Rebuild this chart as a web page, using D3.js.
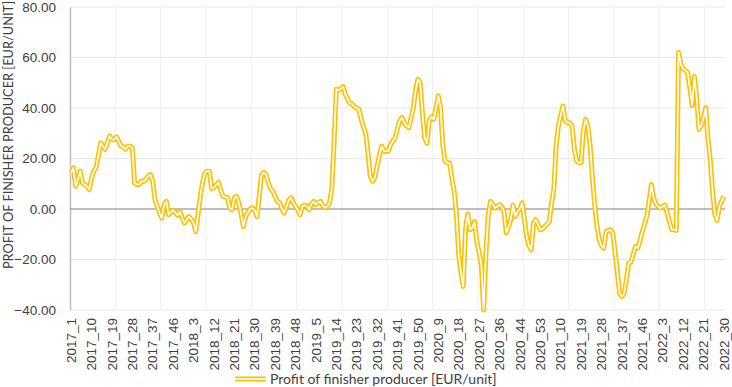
<!DOCTYPE html>
<html>
<head>
<meta charset="utf-8">
<script src="https://cdn.jsdelivr.net/npm/d3@7"></script>
<style>
  body { margin: 0; background: #fff; }
  svg { font-family: "Lato", "Liberation Sans", sans-serif; }
</style>
</head>
<body>
<div id="chart"></div>
<script>
/* tick labels, one every 9 weeks */
const tickLabels = ["2017_1", "2017_10", "2017_19", "2017_28", "2017_37", "2017_46", "2018_3", "2018_12",
    "2018_21", "2018_30", "2018_39", "2018_48", "2019_5", "2019_14", "2019_23", "2019_32", "2019_41",
    "2019_50", "2020_9", "2020_18", "2020_27", "2020_36", "2020_44", "2020_53", "2021_10", "2021_19",
    "2021_28", "2021_37", "2021_46", "2022_3", "2022_12", "2022_21", "2022_30"];

/* weekly profit, EUR/unit */
const profit = [
    14.3, 16.3, 9, 11.7, 15, 10.3, 9.7, 9, 7.7, 12.3,
    15, 16.3, 21, 26.2, 24.9, 23.6, 26.2, 28.9, 27.5, 27.5,
    28.6, 26.9, 24.9, 24.6, 23.6, 24.9, 24.9, 24.2, 10.3, 9.7,
    9.7, 11, 11, 11.7, 13, 13.6, 11, 3.7, 1, -1.6,
    -3.6, 1.7, 3, -2.3, -1.2, -0.5, -1.5, -2.5, -1, -3.5,
    -5.5, -4.2, -3, -4, -5.5, -9, -2, 5, 10.5, 14.3,
    15, 15, 8, 8.5, 9.5, 10.6, 7.5, 5, 4.8, 4.4,
    0.4, -0.3, 4.4, 5, 2.4, -2, -7, -3, -1.5, 0,
    0.5, -0.5, -3, 5, 13.5, 14.5, 13.6, 10.5, 8, 7,
    5, 3, 2.5, 0, -1.6, 1, 3.5, 4.4, 2.5, 1,
    -0.3, -2.3, 1, 1.5, 1.3, -0.3, 2, 3, 1.7, 2.5,
    3, 1.3, 0.5, 1, 2.4, 8, 26, 47.4, 47, 47.7,
    48.5, 45.4, 43.5, 42, 41.5, 40.5, 40, 39.5, 35.5, 32.5,
    30, 22, 13, 11, 12.5, 17, 21, 24.9, 23, 22.9,
    23, 25.5, 27, 28.2, 32, 35, 36.2, 34, 33, 32.2,
    36, 40, 47, 51.4, 50, 38, 28, 26, 35, 36.5,
    35.5, 40, 44.8, 40, 25, 19, 18.3, 18.3, 12, 7,
    -2, -18, -25, -30.7, -8, -2, -8.2, -7.5, -5, -13,
    -17, -22, -40, -18, -3, 3, 2, 0.4, 1, 1.7,
    1, -1, -9.5, -7, -4, 1.5, -2.9, -1, 0, 2.4,
    -4, -11, -14.5, -16.2, -5.6, -4.2, -6, -8.2, -8, -6.9,
    -6, -4.9, 2.4, 8, 25, 33, 37, 40.8, 35, 34.2,
    34.2, 33, 24, 19, 18.3, 18.3, 30.9, 35.5, 33, 25,
    12, 2, -6.9, -12, -14.5, -15.5, -9, -8.5, -8.2, -9.5,
    -17, -25, -33.4, -34.7, -33.4, -28, -21.5, -21, -18, -14.8,
    -15.5, -12.5, -9, -6, -3, 3, 9.7, 4.5, 2, 1,
    0.4, 1, 1.5, -1.6, -5, -8.2, -8.2, -8.5, 62, 57.5,
    55.5, 55, 54, 48, 41, 52.5, 44, 31.5, 33, 36,
    40.1, 28, 19.6, 7, -2, -4.5, 1, 3, 5
];

const yTicks = [-40, -20, 0, 20, 40, 60, 80];
const seriesName = "Profit of finisher producer [EUR/unit]";
const yTitle = "PROFIT OF FINISHER PRODUCER [EUR/UNIT]";

const width = 732, height = 387;
const margin = {top: 7, right: 7, bottom: 77, left: 70};
const gold = "#FFC000";

const svg = d3.select("#chart")
    .append("svg")
        .attr("width", width)
        .attr("height", height);

const idx = d3.range(profit.length);

const x = d3.scaleBand()
    .domain(idx)
    .range([margin.left, width - margin.right])
    .padding(0);

const y = d3.scaleLinear()
    .domain([-40, 80])
    .range([height - margin.bottom, margin.top]);

/* horizontal gridlines */
svg.append("g")
    .selectAll("line")
    .data(yTicks.filter(d => d !== 0))
    .join("line")
        .attr("x1", margin.left)
        .attr("x2", width - margin.right)
        .attr("y1", d => y(d))
        .attr("y2", d => y(d))
        .attr("stroke", "#e6e6e6")
        .attr("stroke-width", 1);

/* vertical gridlines every 20 weeks */
svg.append("g")
    .selectAll("line")
    .data(idx.filter(i => i > 0 && i % 20 === 0))
    .join("line")
        .attr("x1", d => x(d))
        .attr("x2", d => x(d))
        .attr("y1", y(80))
        .attr("y2", y(-40))
        .attr("stroke", "#eeeeee")
        .attr("stroke-width", 1);

/* y axis */
const yAxis = svg.append("g")
    .attr("transform", "translate(" + margin.left + ",0)")
    .call(d3.axisLeft(y).tickValues(yTicks).tickFormat(d3.format(".2f")).tickSize(0).tickPadding(14));
yAxis.select(".domain").attr("stroke", "#bfbfbf").attr("stroke-width", 1.5);
yAxis.selectAll("text").attr("font-size", 13.5).attr("fill", "#404040");

/* zero line */
svg.append("line")
    .attr("x1", margin.left)
    .attr("x2", width - margin.right)
    .attr("y1", y(0))
    .attr("y2", y(0))
    .attr("stroke", "#7f7f7f")
    .attr("stroke-width", 1.2);

/* x labels at the bottom */
const xAxis = svg.append("g")
    .attr("transform", "translate(0," + (height - margin.bottom) + ")")
    .call(d3.axisBottom(x)
        .tickValues(idx.filter(i => i % 9 === 0))
        .tickFormat(i => tickLabels[i / 9])
        .tickSize(0));
xAxis.select(".domain").remove();
xAxis.selectAll("text")
    .attr("font-size", 13.5)
    .attr("fill", "#404040")
    .attr("text-anchor", "end")
    .attr("dy", "0.35em")
    .attr("transform", "translate(0,8) rotate(-90)")
    .attr("x", 0)
    .attr("y", 0);

/* the double line */
const line = d3.line()
    .x((d, i) => x(i) + x.bandwidth() / 2)
    .y(d => y(d));

svg.append("path")
    .datum(profit)
    .attr("fill", "none")
    .attr("stroke", gold)
    .attr("stroke-width", 5)
    .attr("stroke-linejoin", "round")
    .attr("d", line);

svg.append("path")
    .datum(profit)
    .attr("fill", "none")
    .attr("stroke", "#fff")
    .attr("stroke-width", 1.7)
    .attr("stroke-linejoin", "round")
    .attr("d", line);

/* y title */
svg.append("text")
    .attr("transform", "translate(13,135) rotate(-90)")
    .attr("text-anchor", "middle")
    .attr("font-size", 12.8)
    .attr("fill", "#404040")
    .text(yTitle);

/* legend */
const legend = svg.append("g").attr("transform", "translate(235,379)");
legend.append("line")
    .attr("x1", 0).attr("x2", 31)
    .attr("stroke", gold).attr("stroke-width", 5);
legend.append("line")
    .attr("x1", 0).attr("x2", 31)
    .attr("stroke", "#fff").attr("stroke-width", 1.7);
legend.append("text")
    .attr("x", 35)
    .attr("dy", "0.35em")
    .attr("font-size", 14)
    .attr("fill", "#404040")
    .text(seriesName);
</script>
</body>
</html>
